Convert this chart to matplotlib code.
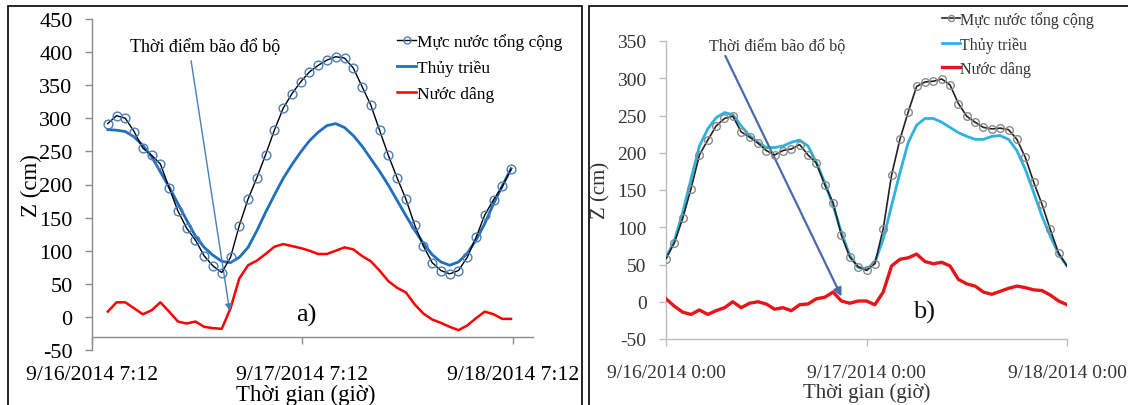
import matplotlib
matplotlib.use("Agg")
import matplotlib.pyplot as plt
import pandas as pd
from matplotlib.patches import Rectangle

# ---- data: panel a (hourly, 9/16 09:00 -> 9/18 07:00)
times_a = pd.date_range("2014-09-16 09:00", periods=47, freq="h")
total_a = [292, 304, 300, 280, 255, 244, 231, 195, 160, 134,
           116, 92, 77, 67, 90, 138, 178, 210, 245, 282,
           315, 337, 355, 370, 380, 388, 393, 391, 376, 348,
           320, 282, 244, 210, 178, 139, 107, 82, 70, 65,
           70, 90, 120, 154, 177, 197, 223]
tide_a = [283, 282, 280, 272, 259, 242, 219, 196, 171, 146,
          122, 105, 93, 84, 82, 90, 105, 130, 158, 184,
          209, 230, 249, 266, 279, 289, 292, 286, 274, 258,
          239, 220, 199, 176, 153, 131, 111, 94, 83, 78,
          83, 96, 116, 141, 171, 198, 224]
surge_a = [8, 22, 22, 13, 4, 10, 22, 8, -7, -10,
           -7, -15, -17, -18, 13, 58, 78, 85, 95, 106,
           110, 107, 104, 100, 95, 95, 100, 105, 102, 92,
           84, 70, 54, 44, 37, 19, 5, -4, -9, -15,
           -20, -13, -2, 8, 4, -3, -3]
ticks_a = pd.to_datetime(["2014-09-16 07:12", "2014-09-17 07:12", "2014-09-18 07:12"])
ticklabels_a = ["9/16/2014 7:12", "9/17/2014 7:12", "9/18/2014 7:12"]
landfall_a = pd.Timestamp("2014-09-16 22:54")

# ---- data: panel b (hourly, 9/16 00:00 -> 9/18 00:00)
times_b = pd.date_range("2014-09-16 00:00", periods=49, freq="h")
total_b = [58, 79, 112, 152, 197, 217, 236, 246, 249, 228,
           221, 213, 203, 197, 203, 205, 211, 197, 186, 157,
           133, 89, 60, 47, 42, 51, 98, 170, 218, 255,
           289, 295, 296, 299, 291, 266, 249, 241, 234, 232,
           233, 231, 218, 194, 161, 131, 97, 65, 48]
tide_b = [59, 82, 120, 165, 209, 232, 247, 254, 251, 236,
          223, 214, 207, 207, 209, 214, 217, 209, 187, 160,
          129, 93, 62, 46, 44, 53, 84, 129, 173, 214,
          237, 246, 246, 241, 234, 227, 222, 218, 218, 222,
          223, 218, 203, 178, 147, 115, 88, 64, 48]
surge_b = [4, -6, -14, -17, -11, -17, -12, -8, 0, -8,
           -2, 0, -3, -10, -8, -12, -4, -3, 4, 6,
           13, 1, -2, 1, 1, -4, 13, 48, 57, 59,
           64, 54, 51, 53, 48, 30, 24, 21, 13, 10,
           14, 18, 21, 19, 16, 15, 9, 1, -4]
ticks_b = pd.to_datetime(["2014-09-16 00:00", "2014-09-17 00:00", "2014-09-18 00:00"])
ticklabels_b = ["9/16/2014 0:00", "9/17/2014 0:00", "9/18/2014 0:00"]
landfall_b = pd.Timestamp("2014-09-16 21:00")

labels = ["Mực nước tổng cộng", "Thủy triều", "Nước dâng"]
note = "Thời điểm bão đổ bộ"

plt.rcParams["font.family"] = ["Liberation Serif", "DejaVu Serif"]
plt.rcParams["axes.unicode_minus"] = False
plt.rcParams["lines.solid_joinstyle"] = "round"

W, H = 1128, 406
fig = plt.figure(figsize=(W / 100, H / 100), dpi=100)


def px_axes(left, top, right, bottom):
    return fig.add_axes([left / W, 1 - bottom / H, (right - left) / W, (bottom - top) / H])


def fx(x):
    return x / W


def fy(y):
    return 1 - y / H


# panel frames
fig.add_artist(Rectangle((fx(8), fy(420)), fx(582 - 8), (420 - 7) / H, transform=fig.transFigure,
                         fill=False, ec="black", lw=1.2))
fig.add_artist(Rectangle((fx(589), fy(420)), fx(1140 - 589), (420 - 7) / H, transform=fig.transFigure,
                         fill=False, ec="black", lw=1.2))

# ---------------- panel a ----------------
ax = px_axes(92, 20, 533, 351)
ax.plot(times_a, total_a, color="black", lw=1.0, marker="o", ms=6.3, mfc="none",
        mec="#4a7ebb", mew=1.0, label=labels[0], zorder=4)
ax.plot(times_a, tide_a, color="#1f6fbf", lw=2.0, label=labels[1], zorder=3)
ax.plot(times_a, surge_a, color="#ff0000", lw=1.8, label=labels[2], zorder=3)
ax.set_xlim(ticks_a[0], ticks_a[0] + pd.Timedelta(hours=50.3))
ax.set_ylim(-50, 450)
ax.set_yticks(range(-50, 451, 50))
ax.set_xticks(ticks_a)
ax.set_xticklabels(ticklabels_a)
for s in ["top", "right"]:
    ax.spines[s].set_visible(False)
ax.spines["bottom"].set_position(("data", -30))
for s in ["left", "bottom"]:
    ax.spines[s].set_color("#8c8c8c")
    ax.spines[s].set_linewidth(1.0)
ax.tick_params(axis="y", direction="out", length=5, width=1, color="#8c8c8c",
               labelsize=16, pad=9)
ax.tick_params(axis="x", direction="out", length=5, width=1, color="#8c8c8c",
               labelsize=15.6, pad=15)
ax.patch.set_visible(False)

ax.annotate("", xy=(landfall_a, 9), xytext=(pd.Timestamp("2014-09-16 18:30"), 387),
            arrowprops=dict(arrowstyle="-|>", color="#4a7ebb", lw=1.0, mutation_scale=10,
                            shrinkA=0, shrinkB=0))
ax.text(pd.Timestamp("2014-09-16 20:06"), 408, note, ha="center", va="center", fontsize=13)
ax.text(pd.Timestamp("2014-09-17 07:42"), 4, "a)", ha="center", va="center", fontsize=19)

ax.legend(loc="upper left", bbox_to_anchor=(fx(397), fy(34)), bbox_transform=fig.transFigure,
          frameon=False, fontsize=12.5, handlelength=1.1, handletextpad=0.05,
          borderpad=0, borderaxespad=0, labelspacing=0.55, markerscale=0.8)
fig.text(fx(31), fy(186), "Z (cm)", rotation=90, ha="center", va="center", fontsize=16.5)
fig.text(fx(306), fy(395), "Thời gian (giờ)", ha="center", va="center", fontsize=16.5)

# ---------------- panel b ----------------
bx = px_axes(666, 42, 1067, 340)
gray = "#333333"
bx.plot(times_b, total_b, color="#222222", lw=1.2, marker="o", ms=5.5, mfc="none",
        mec="#8a8a8a", mew=1.0, markevery=slice(0, 48), label=labels[0], zorder=4)
bx.plot(times_b, tide_b, color="#2eb2e0", lw=2.0, label=labels[1], zorder=3)
bx.plot(times_b, surge_b, color="#e8141a", lw=2.4, label=labels[2], zorder=3)
bx.set_xlim(ticks_b[0], ticks_b[-1])
bx.set_ylim(-50, 350)
bx.set_yticks(range(-50, 351, 50))
bx.set_xticks(ticks_b)
bx.set_xticklabels(ticklabels_b)
for s in ["top", "right"]:
    bx.spines[s].set_visible(False)
for s in ["left", "bottom"]:
    bx.spines[s].set_color("#bdbdbd")
    bx.spines[s].set_linewidth(1.0)
bx.tick_params(axis="both", direction="out", length=5, width=1, color="#bdbdbd",
               labelsize=14, labelcolor=gray)
bx.tick_params(axis="y", pad=9)
bx.tick_params(axis="x", pad=13)
bx.patch.set_visible(False)

bx.annotate("", xy=(landfall_b, 7), xytext=(pd.Timestamp("2014-09-16 07:06"), 330),
            arrowprops=dict(arrowstyle="-|>", color="#4a6aaa", lw=1.6, mutation_scale=12,
                            shrinkA=0, shrinkB=0))
bx.text(pd.Timestamp("2014-09-16 13:18"), 343, note, ha="center", va="center",
        fontsize=11.7, color=gray)
bx.text(pd.Timestamp("2014-09-17 06:54"), -13, "b)", ha="center", va="center", fontsize=19,
        color="#111111")

bx.legend(loc="upper left", bbox_to_anchor=(fx(942), fy(12)), bbox_transform=fig.transFigure,
          frameon=False, fontsize=11.5, handlelength=1.1, handletextpad=0.05,
          borderpad=0, borderaxespad=0, labelspacing=0.52, markerscale=0.8, labelcolor=gray)
fig.text(fx(601), fy(190), "Z (cm)", rotation=90, ha="center", va="center", fontsize=15,
         color=gray)
fig.text(fx(867), fy(393), "Thời gian (giờ)", ha="center", va="center", fontsize=15, color=gray)

fig.savefig("out.png", dpi=100)
